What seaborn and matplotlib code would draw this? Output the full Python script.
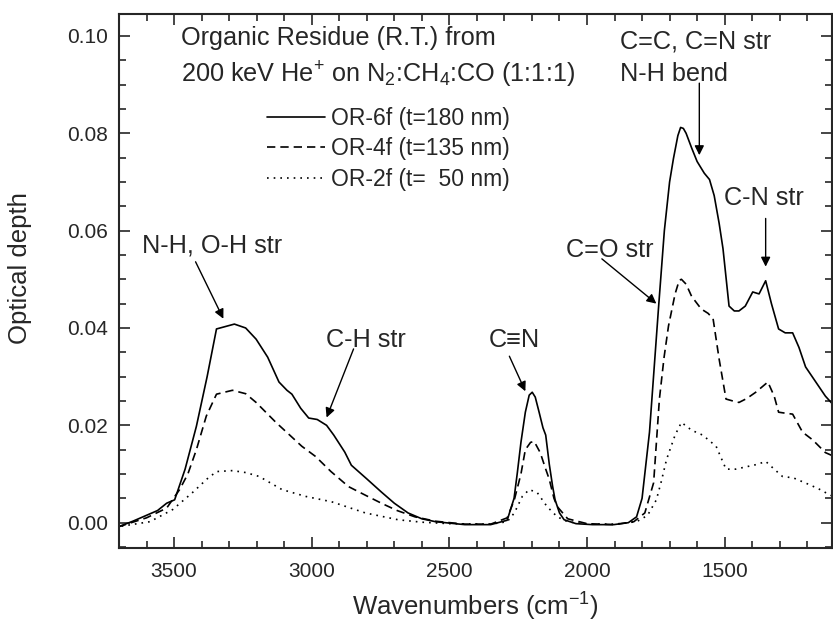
import pandas as pd
import matplotlib.pyplot as plt
import seaborn as sns

# style
sns.set_style("ticks")
plt.rcParams['font.family'] = ['Liberation Sans', 'DejaVu Sans']
plt.rcParams['mathtext.fontset'] = 'custom'
plt.rcParams['mathtext.rm'] = 'Liberation Sans'
plt.rcParams['mathtext.it'] = 'Liberation Sans'

# data (wavenumber in cm-1, optical depth)
wn_6f = [3700, 3650, 3613, 3560, 3527, 3498, 3460, 3419, 3380, 3346, 3320, 3281, 3240, 3202,
         3160, 3119, 3090, 3072, 3040, 3011, 2980, 2946, 2920, 2880, 2856, 2800, 2747, 2700,
         2650, 2600, 2550, 2444, 2350, 2290, 2265, 2253, 2240, 2224, 2210, 2199, 2188, 2174,
         2160, 2150, 2137, 2125, 2116, 2100, 2083, 2040, 1980, 1903, 1850, 1820, 1800, 1773,
         1740, 1719, 1700, 1686, 1670, 1660, 1650, 1640, 1620, 1600, 1574, 1555, 1538, 1520,
         1506, 1484, 1465, 1448, 1425, 1398, 1375, 1351, 1330, 1304, 1280, 1253, 1230, 1206,
         1170, 1134, 1110]
od_6f = [-0.0008, 0.0003, 0.0012, 0.0025, 0.004, 0.0047, 0.011, 0.0198, 0.030, 0.0398, 0.0402,
         0.0408, 0.040, 0.0377, 0.034, 0.0289, 0.0272, 0.0264, 0.0235, 0.0215, 0.0212, 0.0200,
         0.0180, 0.0145, 0.0118, 0.0090, 0.0063, 0.0040, 0.0020, 0.0008, 0.0002, -0.0004,
         -0.0004, 0.0005, 0.0050, 0.0103, 0.0165, 0.0227, 0.0262, 0.0268, 0.0258, 0.0227,
         0.0195, 0.0180, 0.0120, 0.0075, 0.0047, 0.0020, 0.0006, -0.0002, -0.0004, -0.0004,
         0.0000, 0.0012, 0.005, 0.0186, 0.0443, 0.060, 0.070, 0.0748, 0.0795, 0.0812, 0.0810,
         0.0800, 0.0770, 0.0742, 0.0718, 0.0705, 0.0672, 0.0615, 0.0563, 0.0445, 0.0435, 0.0435,
         0.0445, 0.0474, 0.047, 0.0497, 0.045, 0.0398, 0.039, 0.039, 0.036, 0.032, 0.029, 0.026,
         0.0245]

wn_4f = [3700, 3600, 3527, 3480, 3450, 3419, 3383, 3346, 3288, 3240, 3202, 3130, 3080, 3036,
         2986, 2930, 2866, 2800, 2747, 2690, 2625, 2550, 2444, 2350, 2290, 2264, 2240, 2224,
         2205, 2192, 2170, 2150, 2137, 2120, 2108, 2070, 2000, 1903, 1830, 1790, 1758, 1737,
         1720, 1704, 1680, 1665, 1657, 1640, 1620, 1585, 1560, 1542, 1520, 1495, 1470, 1448,
         1420, 1387, 1343, 1320, 1304, 1280, 1253, 1217, 1180, 1134, 1110]
od_4f = [-0.0008, 0.001, 0.003, 0.0068, 0.010, 0.015, 0.0219, 0.0264, 0.0272, 0.0265, 0.0247,
         0.0206, 0.018, 0.0157, 0.0136, 0.0105, 0.0074, 0.0055, 0.004, 0.0025, 0.0012, 0.0003,
         -0.0003, -0.0003, 0.001, 0.0047, 0.010, 0.015, 0.0165, 0.0167, 0.0144, 0.0110, 0.0089,
         0.0050, 0.0033, 0.0008, -0.0002, -0.0004, 0.0002, 0.002, 0.0082, 0.0254, 0.034, 0.0404,
         0.047, 0.0498, 0.050, 0.049, 0.0465, 0.0439, 0.043, 0.0419, 0.0336, 0.0254, 0.025,
         0.0247, 0.0255, 0.0268, 0.0289, 0.026, 0.0227, 0.0225, 0.0223, 0.0186, 0.017, 0.0144,
         0.0138]

wn_2f = [3700, 3588, 3505, 3433, 3380, 3346, 3288, 3240, 3191, 3108, 3022, 2928, 2805, 2686,
         2600, 2500, 2350, 2290, 2264, 2235, 2210, 2181, 2145, 2108, 2070, 2000, 1900, 1820,
         1780, 1748, 1730, 1711, 1680, 1657, 1620, 1580, 1531, 1495, 1460, 1420, 1380, 1351,
         1320, 1290, 1250, 1200, 1160, 1134, 1110]
od_2f = [-0.0008, 0.0002, 0.0027, 0.0062, 0.009, 0.0105, 0.0107, 0.0103, 0.0095, 0.0068, 0.0054,
         0.0043, 0.002, 0.0006, 0.0001, -0.0002, -0.0003, 0.0002, 0.002, 0.0054, 0.0068, 0.0062,
         0.0033, 0.0012, 0.0002, -0.0003, -0.0003, 0.0002, 0.0015, 0.0047, 0.0085, 0.013, 0.018,
         0.0206, 0.019, 0.018, 0.0157, 0.011, 0.011, 0.0115, 0.012, 0.0126, 0.011, 0.0095,
         0.0092, 0.008, 0.007, 0.0062, 0.0055]

labels = ['OR-6f (t=180 nm)', 'OR-4f (t=135 nm)', 'OR-2f (t=  50 nm)']

df = pd.concat([
    pd.DataFrame({'wn': wn_6f, 'od': od_6f, 'sample': labels[0]}),
    pd.DataFrame({'wn': wn_4f, 'od': od_4f, 'sample': labels[1]}),
    pd.DataFrame({'wn': wn_2f, 'od': od_2f, 'sample': labels[2]}),
])

fig = plt.figure(figsize=(8.33, 6.26), dpi=100)
ax = fig.add_axes([0.1429, 0.1246, 0.8559, 0.853])

sns.lineplot(data=df, x='wn', y='od', hue='sample', style='sample', estimator=None,
             palette=['black'] * 3, dashes={labels[0]: '', labels[1]: (5, 3), labels[2]: (1, 3)},
             linewidth=1.2, ax=ax)

ax.set_xlim(3700, 1110)
ax.set_ylim(-0.0052, 0.1045)
ax.set_xticks([3500, 3000, 2500, 2000, 1500])
ax.set_xticks(range(3600, 1100, -100), minor=True)
ax.set_yticks([0.00, 0.02, 0.04, 0.06, 0.08, 0.10])
ax.set_yticks([i * 0.005 for i in range(-1, 21)], minor=True)
ax.set_yticklabels(['0.00', '0.02', '0.04', '0.06', '0.08', '0.10'])
ax.tick_params(which='both', direction='in', top=True, right=True, labelsize=15, width=1.2)
ax.tick_params(which='major', length=8)
ax.tick_params(which='minor', length=5)
ax.tick_params(axis='x', which='major', pad=10)
ax.tick_params(axis='y', which='major', pad=8)
for s in ax.spines.values():
    s.set_linewidth(1.5)

ax.set_xlabel('Wavenumbers (cm$^{-1}$)', fontsize=18.5, labelpad=7)
ax.set_ylabel('Optical depth', fontsize=18.5)
ax.yaxis.set_label_coords(-0.122, 0.524)

ax.legend(loc='upper left', bbox_to_anchor=(0.208, 0.826), frameon=False, fontsize=16.5,
          handlelength=2.5, handletextpad=0.3, labelspacing=0.32, borderpad=0, borderaxespad=0)

# titles and band labels
fs = 18.2
dy = -0.0008
ax.text(3476, 0.1004 + dy, 'Organic Residue (R.T.) from', fontsize=fs, va='center')
ax.text(3476, 0.0928 + dy, '200 keV He$^{+}$ on N$_{2}$:CH$_{4}$:CO (1:1:1)', fontsize=fs, va='center')
ax.text(1881, 0.0996 + dy, 'C=C, C=N str', fontsize=fs, va='center')
ax.text(1881, 0.0930 + dy, 'N-H bend', fontsize=fs, va='center')

arrow = dict(arrowstyle='-|>', color='black', lw=1, mutation_scale=14, shrinkA=0, shrinkB=0)
ax.text(3617, 0.0577 + dy, 'N-H, O-H str', fontsize=fs, va='center', ha='left')
ax.annotate('', xy=(3321, 0.0419), xytext=(3422, 0.0536), arrowprops=arrow)
ax.text(2805, 0.0384 + dy, 'C-H str', fontsize=fs, va='center', ha='center')
ax.annotate('', xy=(2946, 0.0216), xytext=(2848, 0.0357), arrowprops=arrow)
ax.text(2264, 0.0384 + dy, 'C\u2261N', fontsize=fs, va='center', ha='center')
ax.annotate('', xy=(2224, 0.0270), xytext=(2282, 0.0342), arrowprops=arrow)
ax.text(1917, 0.0569 + dy, 'C=O str', fontsize=fs, va='center', ha='center')
ax.annotate('', xy=(1748, 0.0450), xytext=(1946, 0.0542), arrowprops=arrow)
ax.annotate('', xy=(1592, 0.0755), xytext=(1592, 0.0903), arrowprops=arrow)
ax.text(1358, 0.0676 + dy, 'C-N str', fontsize=fs, va='center', ha='center')
ax.annotate('', xy=(1351, 0.0526), xytext=(1351, 0.0625), arrowprops=arrow)

fig.savefig('out.png', dpi=100)
